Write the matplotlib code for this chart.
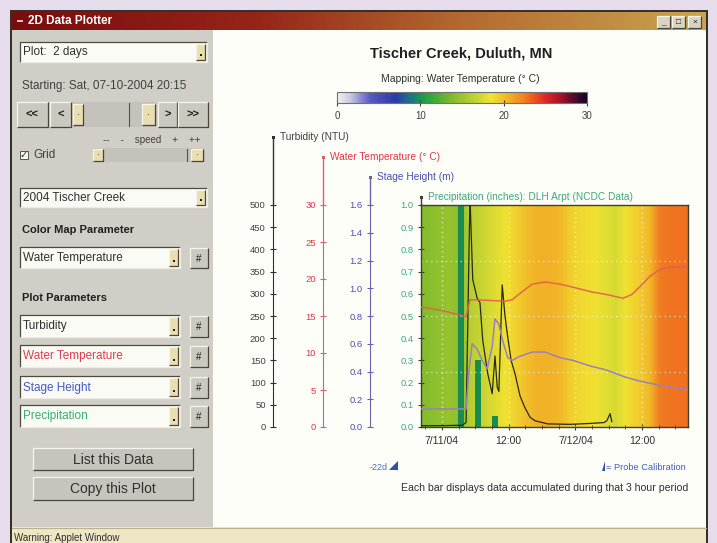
import numpy as np
import matplotlib
matplotlib.use('Agg')
import matplotlib.pyplot as plt
from matplotlib.colors import LinearSegmentedColormap, Normalize
from matplotlib.patches import Rectangle, Polygon
from matplotlib.colorbar import ColorbarBase

plt.rcParams['font.family'] = ['Liberation Sans', 'DejaVu Sans']

W, H = 717, 543

# ---- values (hours since Sat 07-10-2004 20:15) ----
span = 48
tick_hours = [3.75, 15.75, 27.75, 39.75]
tick_labels = ['7/11/04', '12:00', '7/12/04', '12:00']
minor_hours = [0.75 + 3 * i for i in range(16)]
grid_levels = [0.25, 0.5, 0.75]

# water temperature used for the background colouring, one value per 2 hours
bg_temp = [14.0, 14.5, 14.8, 14.3, 16.2, 16.8, 17.6, 18.4, 19.2, 20.0, 20.6, 20.6,
           20.3, 19.3, 18.8, 18.6, 18.0, 17.4, 18.6, 19.4, 20.2, 22.6, 22.8, 22.9]

turb_h = [0, 3.4, 7.4, 8.1, 8.5, 8.8, 9.3, 10.1, 10.6, 11.1, 12.0, 12.8, 13.3, 13.7, 14.0,
          14.6, 15.1, 15.5, 16.2, 16.9, 17.8, 18.7, 19.6, 20.5, 22.8, 26.8, 30.4, 32.9,
          33.4, 34.0, 34.3]
turb = [3, 3, 4, 10, 300, 520, 332, 290, 280, 195, 120, 75, 160, 90, 80,
        320, 250, 211, 150, 120, 70, 43, 22, 14, 7, 6, 8, 10,
        14, 30, 12]

temp_h = [0, 3.4, 6.1, 8.1, 8.8, 12.4, 15.1, 16.4, 18.2, 20.0, 22.3, 25.0, 27.3, 30.4,
          33.4, 36.3, 37.9, 39.4, 41.2, 43.0, 44.8, 48.0]
temp = [16.2, 15.8, 15.3, 14.9, 17.2, 17.1, 17.0, 17.2, 18.3, 19.3, 19.6, 19.3, 18.9, 18.3,
        17.9, 17.4, 17.9, 19.0, 20.4, 21.3, 21.6, 21.7]

stage_h = [0, 8.1, 8.6, 9.2, 10.1, 11.0, 11.9, 12.8, 13.3, 14.0, 14.7, 15.6, 16.4, 17.8,
           20.0, 22.3, 25.0, 27.3, 30.4, 33.4, 36.7, 39.4, 43.0, 48.0]
stage = [0.13, 0.13, 0.40, 0.60, 0.56, 0.48, 0.42, 0.58, 0.78, 0.74, 0.62, 0.50, 0.48, 0.51,
         0.54, 0.54, 0.50, 0.48, 0.44, 0.41, 0.36, 0.33, 0.30, 0.27]

precip_h = [7.25, 10.25, 13.25]
precip = [1.1, 0.30, 0.05]

# colour map like the applet's legend bar
cm_stops = [(0, '#f2f2f2'), (1.5, '#c8c8e4'), (4, '#5858c0'), (7, '#2a3aa8'), (9, '#1a7a80'),
            (10.5, '#20a040'), (14, '#84bc2c'), (16.5, '#c0d232'), (18.5, '#f0e232'),
            (20.5, '#f2b428'), (23, '#f07020'), (25, '#e02828'), (27, '#a01028'),
            (29, '#3a0a30'), (30, '#1a0020')]
cmap = LinearSegmentedColormap.from_list('wt', [(v / 30, c) for v, c in cm_stops])
norm = Normalize(0, 30)

fig = plt.figure(figsize=(W / 100, H / 100), dpi=100)
bg = fig.add_axes([0, 0, 1, 1])
bg.axis('off')


def rect(x0, y0, x1, y1, fc, ec='none', lw=0.7, z=1):
    bg.add_patch(Rectangle((x0, y0), x1 - x0, y1 - y0, facecolor=fc, edgecolor=ec, lw=lw, zorder=z))


def bevel(x0, y0, x1, y1, light, dark, z=2):
    bg.plot([x0, x0, x1], [y1, y0, y0], color=light, lw=0.9, zorder=z, solid_capstyle='butt')
    bg.plot([x0, x1, x1], [y1, y1, y0], color=dark, lw=0.9, zorder=z, solid_capstyle='butt')


def button(x0, y0, x1, y1, label='', fc='#cbc8bf', fs=7, color='#202020', weight='normal'):
    rect(x0, y0, x1, y1, fc)
    bevel(x0, y0, x1, y1, '#f6f4ec', '#4a4638')
    if label:
        bg.text((x0 + x1) / 2, (y0 + y1) / 2 + 0.5, label, ha='center', va='center',
                fontsize=fs, color=color, weight=weight, zorder=3)


def combo(x0, y0, x1, y1, label, color='#303030'):
    rect(x0, y0, x1, y1, '#fbfbf6')
    bevel(x0, y0, x1, y1, '#4e4a3c', '#eeece2')
    button(x1 - 11, y0 + 2, x1 - 2, y1 - 2, fc='#e8deb0')
    rect(x1 - 7.5, y1 - 8, x1 - 5.5, y1 - 6, '#202020', z=3)
    bg.text(x0 + 3, (y0 + y1) / 2 + 0.5, label, ha='left', va='center', fontsize=8.5,
            color=color, zorder=3)


# ---- window chrome ----
rect(0, 0, W, H, '#e6dcec', z=0)
rect(10, 10, 708, H, '#34302a', z=0)
title_cmap = LinearSegmentedColormap.from_list(
    'tb', [(0, '#7a0c10'), (0.35, '#962418'), (0.65, '#b46a30'), (1, '#caa450')])
bg.imshow(np.linspace(0, 1, 256)[None, :], extent=[12, 706, 30, 12], cmap=title_cmap,
          aspect='auto', zorder=1)
rect(17, 20, 23, 22, '#e0c0b0', z=2)
bg.text(28, 21.5, '2D Data Plotter', color='white', fontsize=8.5, weight='bold',
        va='center', zorder=3)
for x0, glyph in [(657, '_'), (672, '□'), (688, '×')]:
    button(x0, 16, x0 + 13, 28, glyph, fc='#d8d4c0', fs=6)

rect(12, 30, 213, 527, '#d0cec6')
rect(213, 30, 706, 527, '#fefef9')
rect(12, 527, 706, H, '#efe6c4')
bg.plot([12, 706], [527.5, 527.5], color='#b8b090', lw=0.8, zorder=2)
bg.text(14, 538, 'Warning: Applet Window', fontsize=7, color='#303030', va='center')

# ---- left control panel ----
combo(20, 42, 207, 62, 'Plot:  2 days')
bg.text(22, 86, 'Starting: Sat, 07-10-2004 20:15', fontsize=8.5, color='#404040', va='center')
button(17, 102, 48, 127, '<<', weight='bold', fs=8)
button(50, 102, 71, 127, '<', weight='bold', fs=8)
rect(72, 102, 157, 127, '#c4c2ba')
button(73, 104, 83, 125, '·', fc='#e8deb0')
bg.plot([129, 129], [103, 126], color='#505050', lw=0.8)
button(142, 104, 155, 125, '·', fc='#e8deb0')
button(158, 102, 177, 127, '>', weight='bold', fs=8)
button(178, 102, 208, 127, '>>', weight='bold', fs=8)
bg.text(152, 140, '--    -    speed    +    ++', fontsize=7, color='#404040',
        ha='center', va='center')
rect(20, 151, 28, 159, '#f8f8f0', ec='#404040', lw=0.6)
bg.text(24, 155, '✓', fontsize=7, ha='center', va='center', color='#202020',
        family=['DejaVu Sans'])
bg.text(33, 155.5, 'Grid', fontsize=8.5, color='#404040', va='center')
rect(93, 148, 205, 162, '#c4c2ba')
button(93, 149, 103, 161, '·', fc='#e8deb0')
bg.plot([187, 187], [149, 161], color='#505050', lw=0.8)
button(191, 149, 203, 161, '·', fc='#e8deb0')

combo(20, 188, 207, 207, '2004 Tischer Creek')
bg.text(22, 230, 'Color Map Parameter', fontsize=8, weight='bold', color='#202020', va='center')
combo(20, 247, 180, 268, 'Water Temperature')
button(190, 248, 208, 268, '#', fs=7)
bg.text(22, 298, 'Plot Parameters', fontsize=8, weight='bold', color='#202020', va='center')
for (y0, y1, name, col) in [(315, 337, 'Turbidity', '#303030'),
                             (345, 367, 'Water Temperature', '#e03c50'),
                             (376, 398, 'Stage Height', '#4458c8'),
                             (405, 427, 'Precipitation', '#38b070')]:
    combo(20, y0, 180, y1, name, col)
    button(190, y0 + 1, 208, y1, '#', fs=7)
button(33, 448, 193, 470, 'List this Data', fc='#c6c4bc', fs=10, color='#303030')
button(33, 477, 193, 500, 'Copy this Plot', fc='#c6c4bc', fs=10, color='#303030')

# ---- chart texts ----
bg.text(461, 53, 'Tischer Creek, Duluth, MN', ha='center', va='center', fontsize=10.5,
        weight='bold', color='#202020')
bg.text(460, 79, 'Mapping: Water Temperature (° C)', ha='center', va='center', fontsize=7.5,
        color='#303030')

L, R, T, B = 421, 688, 205, 427
axis_specs = [  # (x pixel of spine, top of spine, colour, label colour, heading)
    (273, 137, '#303030', '#404040', 'Turbidity (NTU)'),
    (323, 157, '#d86070', '#e03848', 'Water Temperature (° C)'),
    (370, 177, '#6464a8', '#4850b0', 'Stage Height (m)'),
    (L, 197, '#404030', '#40a880', 'Precipitation (inches): DLH Arpt (NCDC Data)'),
]
for xs, top, sc, lc, head in axis_specs:
    bg.plot([xs, xs], [T, top], color=sc, lw=1.0, zorder=2)
    rect(xs - 1.5, top - 1.5, xs + 1.5, top + 1.5, sc, z=3)
    bg.text(xs + 7, top, head, fontsize=7.3, color=lc, va='center', zorder=3)

bg.text(379, 467, '-22d', fontsize=6.5, color='#5070b0', ha='center', va='center')
bg.add_patch(Polygon([[389, 470], [398, 470], [398, 461]], closed=True,
                     facecolor='#3050a0', edgecolor='none'))
bg.add_patch(Polygon([[602, 471], [605, 471], [605, 461]], closed=True,
                     facecolor='#3050b0', edgecolor='none'))
bg.text(606, 467, '= Probe Calibration', fontsize=6.7, color='#4060c0', va='center')
bg.text(688, 488, 'Each bar displays data accumulated during that 3 hour period',
        fontsize=7.6, color='#303030', ha='right', va='center')

bg.set_xlim(0, W)
bg.set_ylim(H, 0)

# ---- colour legend bar ----
cax = fig.add_axes([337 / W, 1 - 103 / H, 250 / W, 11 / H])
cb = ColorbarBase(cax, cmap=cmap, norm=norm, orientation='horizontal', ticks=[0, 10, 20, 30])
cb.outline.set_edgecolor('#707070')
cb.outline.set_linewidth(0.8)
cax.tick_params(labelsize=7, colors='#404040', length=4, direction='inout', pad=4)

# ---- main plot ----
ax = fig.add_axes([L / W, 1 - B / H, (R - L) / W, (B - T) / H])
ax.imshow(np.array(bg_temp)[None, :], extent=[0, span, 0, 1], aspect='auto', cmap=cmap,
          norm=norm, interpolation='bilinear', zorder=0)
ax.bar(precip_h, precip, width=1.1, color='#1a8c50', zorder=1)
ax.vlines(tick_hours, 0, 1, colors='white', linestyles=(0, (1, 2.5)), lw=1.0, alpha=0.6, zorder=2)
ax.hlines(grid_levels, 0, span, colors='white', linestyles=(0, (1, 2.5)), lw=1.0, alpha=0.6,
          zorder=2)
ax.set_xlim(0, span)
ax.set_ylim(0, 1.0)
ax.set_yticks(np.arange(0, 1.01, 0.1))
ax.set_yticklabels(['%.1f' % v for v in np.arange(0, 1.01, 0.1)])
ax.set_xticks(tick_hours)
ax.set_xticklabels(tick_labels)
ax.set_xticks(minor_hours, minor=True)
for s in ax.spines.values():
    s.set_color('#404030')
    s.set_linewidth(1.0)
ax.tick_params(axis='y', labelsize=6.8, colors='#404030', labelcolor='#40a880', length=4.5,
               direction='inout', pad=3)
ax.tick_params(axis='x', which='major', labelsize=7.5, colors='#404030', labelcolor='#303030',
               length=5, direction='inout', pad=4)
ax.tick_params(axis='x', which='minor', colors='#404030', length=3, direction='inout')


def side_axis(outward_px, ylim, ticks, fmt, sc, lc):
    tw = ax.twinx()
    tw.set_xlim(0, span)
    tw.set_ylim(*ylim)
    for k in ['top', 'bottom', 'right']:
        tw.spines[k].set_visible(False)
    tw.spines['left'].set_visible(True)
    tw.spines['left'].set_position(('outward', outward_px * 0.72))
    tw.spines['left'].set_color(sc)
    tw.yaxis.tick_left()
    tw.set_yticks(ticks)
    tw.set_yticklabels([fmt % v for v in ticks])
    tw.tick_params(axis='y', labelsize=6.8, colors=sc, labelcolor=lc, length=4.5,
                   direction='inout', pad=3)
    return tw


ax_t = side_axis(L - 273, (0, 500), list(range(0, 501, 50)), '%d', '#303030', '#404040')
ax_w = side_axis(L - 323, (0, 30), list(range(0, 31, 5)), '%d', '#d86070', '#e03848')
ax_s = side_axis(L - 370, (0, 1.6), list(np.arange(0, 1.61, 0.2)), '%.1f', '#6464a8', '#4850b0')

ax_w.plot(temp_h, temp, color='#e2604a', lw=1.1, alpha=0.9)
ax_s.plot(stage_h, stage, color='#9c80b8', lw=1.1)
ax_t.plot(turb_h, turb, color='#2a2a18', lw=0.9)

fig.savefig('out.png', dpi=100)
